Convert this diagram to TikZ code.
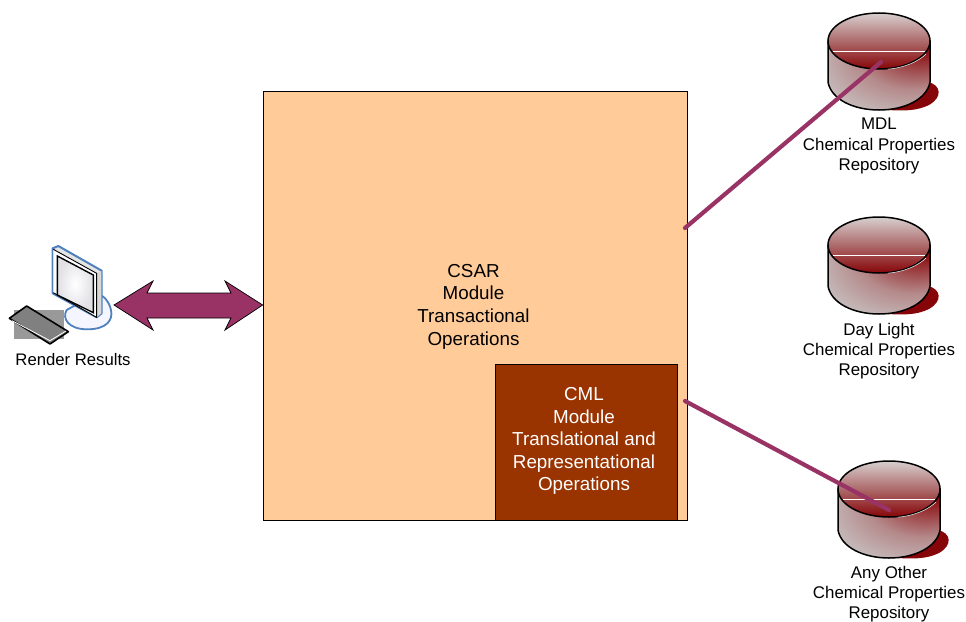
\documentclass[tikz,border=0pt]{standalone}
\usepackage{fontspec}
\setmainfont{Liberation Sans}
\usetikzlibrary{calc}
\definecolor{cylred}{HTML}{8E1518}
\definecolor{cylmid}{HTML}{B58A8B}
\definecolor{cylgrey}{HTML}{C8C1C1}
\definecolor{cyltop}{HTML}{D8CFCF}
\definecolor{cyldark}{HTML}{860508}
\definecolor{cylmidt}{HTML}{AD6A6B}
\definecolor{peach}{HTML}{FFCC99}
\definecolor{rust}{HTML}{993300}
\definecolor{plum}{HTML}{993366}
\definecolor{monblue}{HTML}{4F81BD}
\pgfdeclareradialshading{cylside}{\pgfpoint{24bp}{26bp}}{color(0bp)=(cylred);color(8bp)=(cylred);color(28bp)=(cylmid);color(46bp)=(cylgrey);color(90bp)=(cylgrey)}
\tikzset{
  lbl/.style={align=center,inner sep=0pt,font=\fontsize{16.9}{20.3}\selectfont},
  biglbl/.style={align=center,inner sep=0pt,font=\fontsize{18.8}{22.6}\selectfont},
  wire/.style={draw=plum,line width=4.2pt,line cap=round},
  boxline/.style={draw=black,line width=0.7pt},
  pics/repo/.style={code={
    \fill[cyldark] (100,69) .. controls (113,72) and (115,84) .. (101,92) .. controls (89,98) and (75,98) .. (60,97) -- cycle;
    \path[shading=cylside,draw=black,line width=1.5pt]
      (0,28) -- (0,69) .. controls (3,86) and (25,97) .. (51,97) .. controls (77,97) and (99,86) .. (102,69) -- (102,28) -- cycle;
    \path[top color=cyltop,bottom color=cyldark,middle color=cylmidt,draw=black,line width=1.5pt]
      (51,28) ellipse [x radius=51,y radius=28];
    \draw[white,line width=0.9pt] (5,38) -- (97,38);
    \draw[white,line width=0.5pt] (98,41) .. controls (90,49) and (75,55) .. (60,56.2);
  }}
}
\begin{document}
\begin{tikzpicture}[x=1pt,y=-1pt]
\useasboundingbox (0,0) rectangle (966,621);
% main boxes
\node[boxline,fill=peach,minimum width=424pt,minimum height=429pt,inner sep=0pt,anchor=north west] (csar) at (262.7,90.7) {};
\node[biglbl,anchor=center] (csartext) at (473.5,306.5) {CSAR\\Module\\Transactional\\Operations};
\node[boxline,fill=rust,minimum width=182pt,minimum height=156pt,inner sep=0pt,anchor=north west] (cml) at (494.7,363.7) {};
\node[biglbl,text=white] (cmltext) at (584,441) {CML\\Module\\Translational and\\Representational\\Operations};
% repositories
\pic at (828,13) {repo};
\pic at (828,217) {repo};
\pic at (838,461) {repo};
\node[lbl] (mdl) at (879,146) {MDL\\Chemical Properties\\Repository};
\node[lbl] (day) at (879,351) {Day Light\\Chemical Properties\\Repository};
\node[lbl] (any) at (889,594) {Any Other\\Chemical Properties\\Repository};
% connectors
\coordinate (mdlhit) at (881,62);
\coordinate (anyhit) at (889,510);
\coordinate (csarA) at (685,228);
\coordinate (csarB) at (685,401);
\draw[wire] (csarA) -- (mdlhit);
\draw[wire] (csarB) -- (anyhit);
% double arrow
\coordinate (arrL) at (114,305);
\coordinate (arrR) at (csar.west |- arrL);
\draw[fill=plum,draw=black,line width=0.7pt] (arrL) -- (153,281) -- (147,293) -- (231,293) -- (225,281) -- (arrR) -- (225,330) -- (231,318) -- (147,318) -- (153,330) -- cycle;
% computer
\begin{scope}[x=0.3333pt,y=-0.3333pt,yshift=-230pt]
\fill[black!40] (42,240) rectangle (192,327);
\draw[black,line width=1.6pt,fill=black!50,line join=round] (28,265) -- (80,228) -- (205,305) -- (150,342) -- cycle;
\draw[white,line width=0.8pt] (36,272) -- (150,332) -- (198,303);
\draw[monblue,line width=1.8pt,fill=green!4!blue!4!white] (200,240) .. controls (185,265) and (205,298) .. (262,298) .. controls (320,298) and (340,270) .. (333,240) .. controls (328,215) and (310,195) .. (290,190) -- cycle;
\draw[monblue,line width=2pt,fill=black!10,line join=round] (158,55) -- (175,48) -- (305,122) -- (305,250) -- (290,262) -- (158,190) -- cycle;
\fill[white] (160,58) -- (290,130) -- (290,262) -- (160,188) -- cycle;
\fill[black!15] (290,130) -- (304,123) -- (304,250) -- (290,262) -- cycle;
\draw[black,line width=0.9pt] (160,58) -- (290,130) -- (290,262) -- (160,188);
\path[inner color=white,outer color=blue!14!black!12!white,draw=black,line width=1.4pt] (172,78) -- (280,135) -- (280,248) -- (172,195) -- cycle;
\end{scope}
\node[lbl,font=\fontsize{16.7}{20}\selectfont] (render) at (73,360) {Render Results};
\end{tikzpicture}
\end{document}
